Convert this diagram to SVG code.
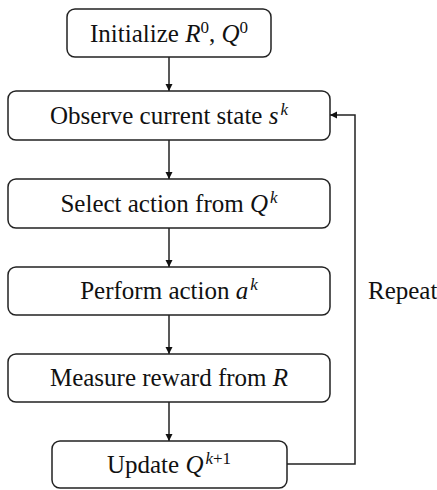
<svg xmlns="http://www.w3.org/2000/svg" width="437" height="490" viewBox="0 0 437 490">
<style>
.box{fill:#fff;stroke:#222;stroke-width:1.5}
.t{font-family:"Liberation Serif","Times New Roman",serif;font-size:25px;fill:#111;text-anchor:middle}
.r{text-anchor:start}
.m{font-style:italic}
.sup{font-size:17px}
.c{fill:none;stroke:#222;stroke-width:1.5}
</style>
<defs>
<marker id="ah" markerWidth="8" markerHeight="8" refX="7" refY="4" orient="auto" markerUnits="userSpaceOnUse">
<path d="M0,0.5 L7,4 L0,7.5 Z" fill="#111"/>
</marker>
</defs>
<g id="connectors">
<line class="c" x1="169" y1="57" x2="169" y2="91" marker-end="url(#ah)"/>
<line class="c" x1="169" y1="140" x2="169" y2="179" marker-end="url(#ah)"/>
<line class="c" x1="169" y1="228" x2="169" y2="267" marker-end="url(#ah)"/>
<line class="c" x1="169" y1="315" x2="169" y2="354" marker-end="url(#ah)"/>
<line class="c" x1="169" y1="402" x2="169" y2="441" marker-end="url(#ah)"/>
<polyline class="c" points="287,464 355,464 355,115 330,115" marker-end="url(#ah)"/>
<text class="t r" x="368" y="299">Repeat</text>
</g>
<g id="n1">
<rect class="box" x="67" y="9" width="204" height="48" rx="8"/>
<text class="t" x="169" y="42">Initialize <tspan class="m">R</tspan><tspan class="sup" dy="-9">0</tspan><tspan dy="9">, </tspan><tspan class="m">Q</tspan><tspan class="sup" dy="-9">0</tspan></text>
</g>
<g id="n2">
<rect class="box" x="8" y="91" width="322" height="49" rx="8"/>
<text class="t" x="169" y="124">Observe current state <tspan class="m">s</tspan><tspan class="sup m" dx="2" dy="-9">k</tspan></text>
</g>
<g id="n3">
<rect class="box" x="8" y="179" width="322" height="49" rx="8"/>
<text class="t" x="169" y="212">Select action from <tspan class="m">Q</tspan><tspan class="sup m" dx="2" dy="-9">k</tspan></text>
</g>
<g id="n4">
<rect class="box" x="8" y="267" width="322" height="48" rx="8"/>
<text class="t" x="169" y="299">Perform action <tspan class="m">a</tspan><tspan class="sup m" dx="2" dy="-9">k</tspan></text>
</g>
<g id="n5">
<rect class="box" x="8" y="354" width="322" height="48" rx="8"/>
<text class="t" x="169" y="386">Measure reward from <tspan class="m">R</tspan></text>
</g>
<g id="n6">
<rect class="box" x="52" y="441" width="235" height="47" rx="8"/>
<text class="t" x="169" y="473">Update <tspan class="m">Q</tspan><tspan class="sup m" dx="2" dy="-9">k</tspan><tspan class="sup">+1</tspan></text>
</g>
</svg>
